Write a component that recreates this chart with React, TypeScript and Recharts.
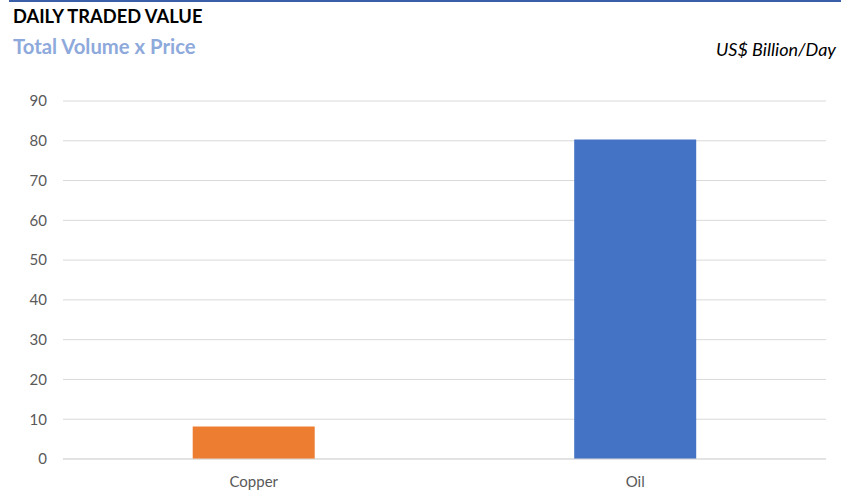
import { BarChart, Bar, XAxis, YAxis, CartesianGrid, Cell } from "recharts"

const categories = ["Copper", "Oil"]
const values = [8.2, 80.3]
const barColors = ["#ED7D31", "#4472C4"]
const yTicks = [0, 10, 20, 30, 40, 50, 60, 70, 80, 90]

const data = categories.map((name, i) => ({ name, value: values[i] }))

const font = "Lato, 'Open Sans', sans-serif"

export default function App() {
  return (
    <div style={{ position: "absolute", left: 0, top: 0, width: 841, height: 494, background: "#fff", fontFamily: font }}>
      <div style={{ position: "absolute", left: 9, top: 0, width: 832, height: 2, background: "#3A5FA8" }} />
      <div style={{ position: "absolute", left: 13, top: 5, fontSize: 18.3, fontWeight: 700, color: "#000", lineHeight: "22px" }}>
        DAILY TRADED VALUE
      </div>
      <div style={{ position: "absolute", left: 13, top: 34, fontSize: 20.3, fontWeight: 700, color: "#8EA9DB", lineHeight: "24px" }}>
        Total Volume x Price
      </div>
      <div style={{ position: "absolute", right: 5, top: 38, fontSize: 18, fontStyle: "italic", color: "#000", lineHeight: "22px" }}>
        US$ Billion/Day
      </div>
      <div style={{ position: "absolute", left: 0, top: 0 }}>
        <BarChart
          width={841}
          height={494}
          data={data}
          margin={{ top: 101, right: 15, bottom: 0, left: 0 }}
          barCategoryGap="34%"
        >
          <CartesianGrid vertical={false} stroke="#D9D9D9" />
          <XAxis
            dataKey="name"
            axisLine={{ stroke: "#D9D9D9" }}
            tickLine={false}
            tickSize={0}
            tickMargin={17}
            height={35}
            tick={{ fill: "#595959", fontSize: 15, fontFamily: font }}
          />
          <YAxis
            domain={[0, 90]}
            ticks={yTicks}
            axisLine={false}
            tickLine={false}
            tickSize={0}
            tickMargin={16}
            width={63}
            tick={{ fill: "#595959", fontSize: 15, fontFamily: font }}
          />
          <Bar dataKey="value" isAnimationActive={false}>
            {data.map((d, i) => (
              <Cell key={d.name} fill={barColors[i]} />
            ))}
          </Bar>
        </BarChart>
      </div>
    </div>
  )
}
